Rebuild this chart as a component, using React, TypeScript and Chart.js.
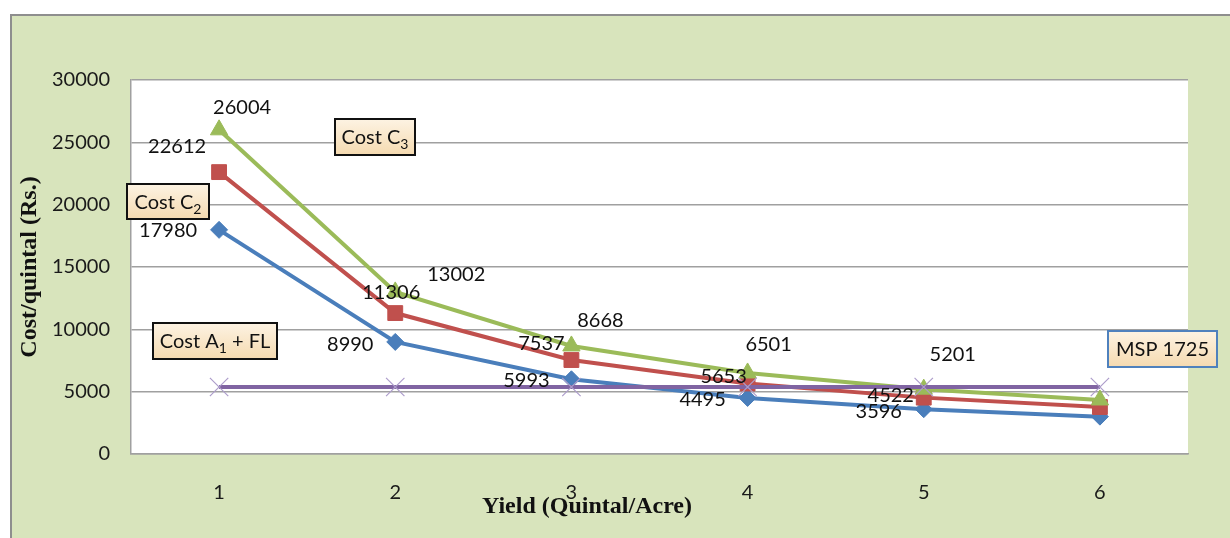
import React, { useEffect, useRef } from "react";
import { Chart, registerables } from "chart.js";

Chart.register(...registerables);

// ---------- data ----------
const yieldLabels = ["1", "2", "3", "4", "5", "6"];
const costA1FL = [17980, 8990, 5993, 4495, 3596, 2997];
const costC2 = [22612, 11306, 7537, 5653, 4522, 3769];
const costC3 = [26004, 13002, 8668, 6501, 5201, 4334];
const mspLine = [5375, 5375, 5375, 5375, 5375, 5375];
const yTicks = [0, 5000, 10000, 15000, 20000, 25000, 30000];

// label placements (dx, dy from point, in px); null = no label
const offA1FL: ([number, number] | null)[] = [[-51, 0], [-45, 2], [-45, 1], [-45, 1], [-45, 2], null];
const offC2: ([number, number] | null)[] = [[-42, -26], [-4, -21], [-30, -17], [-24, -8], [-33, -3], null];
const offC3: ([number, number] | null)[] = [[23, -23], [61, -18], [29, -26], [21, -29], [29, -35], null];

const FONT = "Lato, 'Open Sans', sans-serif";
const SERIF = "'Liberation Serif', 'DejaVu Serif', serif";

const BLUE = "#4A7EBB";
const RED = "#C0504D";
const GREEN = "#9BBB59";
const PURPLE = "#8064A2";

type Part = { t: string; sub?: boolean };

function drawRich(ctx: CanvasRenderingContext2D, parts: Part[], cx: number, baseY: number) {
  const widths = parts.map((p) => {
    ctx.font = p.sub ? `14px ${FONT}` : `20px ${FONT}`;
    return ctx.measureText(p.t).width;
  });
  const total = widths.reduce((a, b) => a + b, 0);
  let x = cx - total / 2;
  ctx.textAlign = "left";
  ctx.textBaseline = "alphabetic";
  parts.forEach((p, i) => {
    ctx.font = p.sub ? `14px ${FONT}` : `20px ${FONT}`;
    ctx.fillText(p.t, x, p.sub ? baseY + 5 : baseY);
    x += widths[i];
  });
}

function drawBox(
  ctx: CanvasRenderingContext2D,
  x0: number,
  y0: number,
  x1: number,
  y1: number,
  border: string,
  parts: Part[]
) {
  const g = ctx.createLinearGradient(0, y0, 0, y1);
  g.addColorStop(0, "#FDF3E3");
  g.addColorStop(1, "#F5DAB0");
  ctx.fillStyle = g;
  ctx.fillRect(x0, y0, x1 - x0, y1 - y0);
  ctx.strokeStyle = border;
  ctx.lineWidth = 2;
  ctx.strokeRect(x0, y0, x1 - x0, y1 - y0);
  ctx.fillStyle = "#111";
  drawRich(ctx, parts, (x0 + x1) / 2, (y0 + y1) / 2 + 7);
}

const backgroundPlugin = {
  id: "bgPlugin",
  beforeDraw(chart: any) {
    const { ctx, chartArea } = chart;
    ctx.save();
    ctx.fillStyle = "#FFFFFF";
    ctx.fillRect(0, 0, chart.width, chart.height);
    ctx.fillStyle = "#D8E4BC";
    ctx.fillRect(10, 14, chart.width - 10, chart.height - 14);
    ctx.strokeStyle = "#8E8E8E";
    ctx.lineWidth = 2;
    ctx.beginPath();
    ctx.moveTo(11, chart.height);
    ctx.lineTo(11, 15);
    ctx.lineTo(chart.width, 15);
    ctx.stroke();
    ctx.fillStyle = "#FFFFFF";
    ctx.fillRect(chartArea.left, chartArea.top, chartArea.right - chartArea.left, chartArea.bottom - chartArea.top);
    ctx.restore();
  },
};

const labelPlugin = {
  id: "pointLabelPlugin",
  afterDatasetsDraw(chart: any) {
    const ctx = chart.ctx as CanvasRenderingContext2D;
    ctx.save();
    ctx.font = `20px ${FONT}`;
    ctx.fillStyle = "#111";
    ctx.textAlign = "center";
    ctx.textBaseline = "alphabetic";
    chart.data.datasets.forEach((ds: any, i: number) => {
      const offs = ds.labelOffsets;
      if (!offs) return;
      const meta = chart.getDatasetMeta(i);
      meta.data.forEach((pt: any, j: number) => {
        const o = offs[j];
        if (!o) return;
        ctx.fillText(String(ds.data[j]), pt.x + o[0], pt.y + o[1] + 7);
      });
    });
    ctx.restore();
  },
};

const annotationPlugin = {
  id: "annotationPlugin",
  afterDraw(chart: any) {
    const { ctx, chartArea } = chart;
    ctx.save();
    // axis titles
    ctx.fillStyle = "#111";
    ctx.font = `bold 24px ${SERIF}`;
    ctx.textAlign = "center";
    ctx.textBaseline = "alphabetic";
    ctx.fillText("Yield (Quintal/Acre)", 587, 513);
    ctx.save();
    ctx.translate(36, (chartArea.top + chartArea.bottom) / 2);
    ctx.rotate(-Math.PI / 2);
    ctx.fillText("Cost/quintal (Rs.)", 0, 0);
    ctx.restore();
    // callout boxes
    drawBox(ctx, 335, 119, 415, 155, "#111", [{ t: "Cost C" }, { t: "3", sub: true }]);
    drawBox(ctx, 127, 184, 209, 219, "#111", [{ t: "Cost C" }, { t: "2", sub: true }]);
    drawBox(ctx, 153, 323, 277, 359, "#111", [{ t: "Cost A" }, { t: "1", sub: true }, { t: " + FL" }]);
    drawBox(ctx, 1108, 331, 1217, 367, "#4F81BD", [{ t: "MSP 1725" }]);
    ctx.restore();
  },
};

export default function App() {
  const canvasRef = useRef<HTMLCanvasElement | null>(null);

  useEffect(() => {
    if (!canvasRef.current) return;
    const chart = new Chart(canvasRef.current, {
      type: "line",
      data: {
        labels: yieldLabels,
        datasets: [
          {
            label: "MSP 1725",
            data: mspLine,
            borderColor: PURPLE,
            borderWidth: 4,
            pointStyle: "crossRot",
            pointRadius: 13,
            pointBorderColor: "#AD9DCB",
            pointBorderWidth: 1.2,
            pointBackgroundColor: "#AD9DCB",
            tension: 0,
          },
          {
            label: "Cost C3",
            data: costC3,
            borderColor: GREEN,
            borderWidth: 4,
            pointStyle: "triangle",
            pointRadius: 10,
            pointBackgroundColor: GREEN,
            pointBorderColor: GREEN,
            pointBorderWidth: 1,
            tension: 0,
            labelOffsets: offC3,
          } as any,
          {
            label: "Cost C2",
            data: costC2,
            borderColor: RED,
            borderWidth: 4,
            pointStyle: "rect",
            pointRadius: 10.5,
            pointBackgroundColor: RED,
            pointBorderColor: RED,
            pointBorderWidth: 1,
            tension: 0,
            labelOffsets: offC2,
          } as any,
          {
            label: "Cost A1 + FL",
            data: costA1FL,
            borderColor: BLUE,
            borderWidth: 4,
            pointStyle: "rectRot",
            pointRadius: 8.5,
            pointBackgroundColor: BLUE,
            pointBorderColor: BLUE,
            pointBorderWidth: 1,
            tension: 0,
            labelOffsets: offA1FL,
          } as any,
        ],
      },
      options: {
        responsive: false,
        animation: false,
        devicePixelRatio: 1,
        layout: { padding: { top: 80, right: 42, left: 0, bottom: 0 } },
        plugins: {
          legend: { display: false },
          tooltip: { enabled: false },
          title: { display: false },
        },
        scales: {
          x: {
            type: "category",
            offset: true,
            grid: { display: false, drawTicks: false },
            border: { display: true, color: "#A0A0A0", width: 1.5 },
            ticks: {
              color: "#1a1a1a",
              font: { family: FONT, size: 20 },
              padding: 27,
            },
            afterFit: (s: any) => {
              s.height = 84;
            },
          },
          y: {
            min: 0,
            max: 30000,
            afterBuildTicks: (s: any) => {
              s.ticks = yTicks.map((v) => ({ value: v }));
            },
            grid: { color: "#A0A0A0", lineWidth: 1.5, drawTicks: false },
            border: { display: true, color: "#A0A0A0", width: 1.5 },
            ticks: {
              color: "#1a1a1a",
              font: { family: FONT, size: 20 },
              padding: 21,
              callback: (v: any) => String(v),
            },
            afterFit: (s: any) => {
              s.width = 131;
            },
          },
        },
      },
      plugins: [backgroundPlugin, labelPlugin, annotationPlugin],
    } as any);
    return () => chart.destroy();
  }, []);

  return (
    <div style={{ position: "absolute", left: 0, top: 0, width: 1230, height: 538, background: "#fff" }}>
      <canvas ref={canvasRef} width={1230} height={538} style={{ display: "block" }} />
    </div>
  );
}
